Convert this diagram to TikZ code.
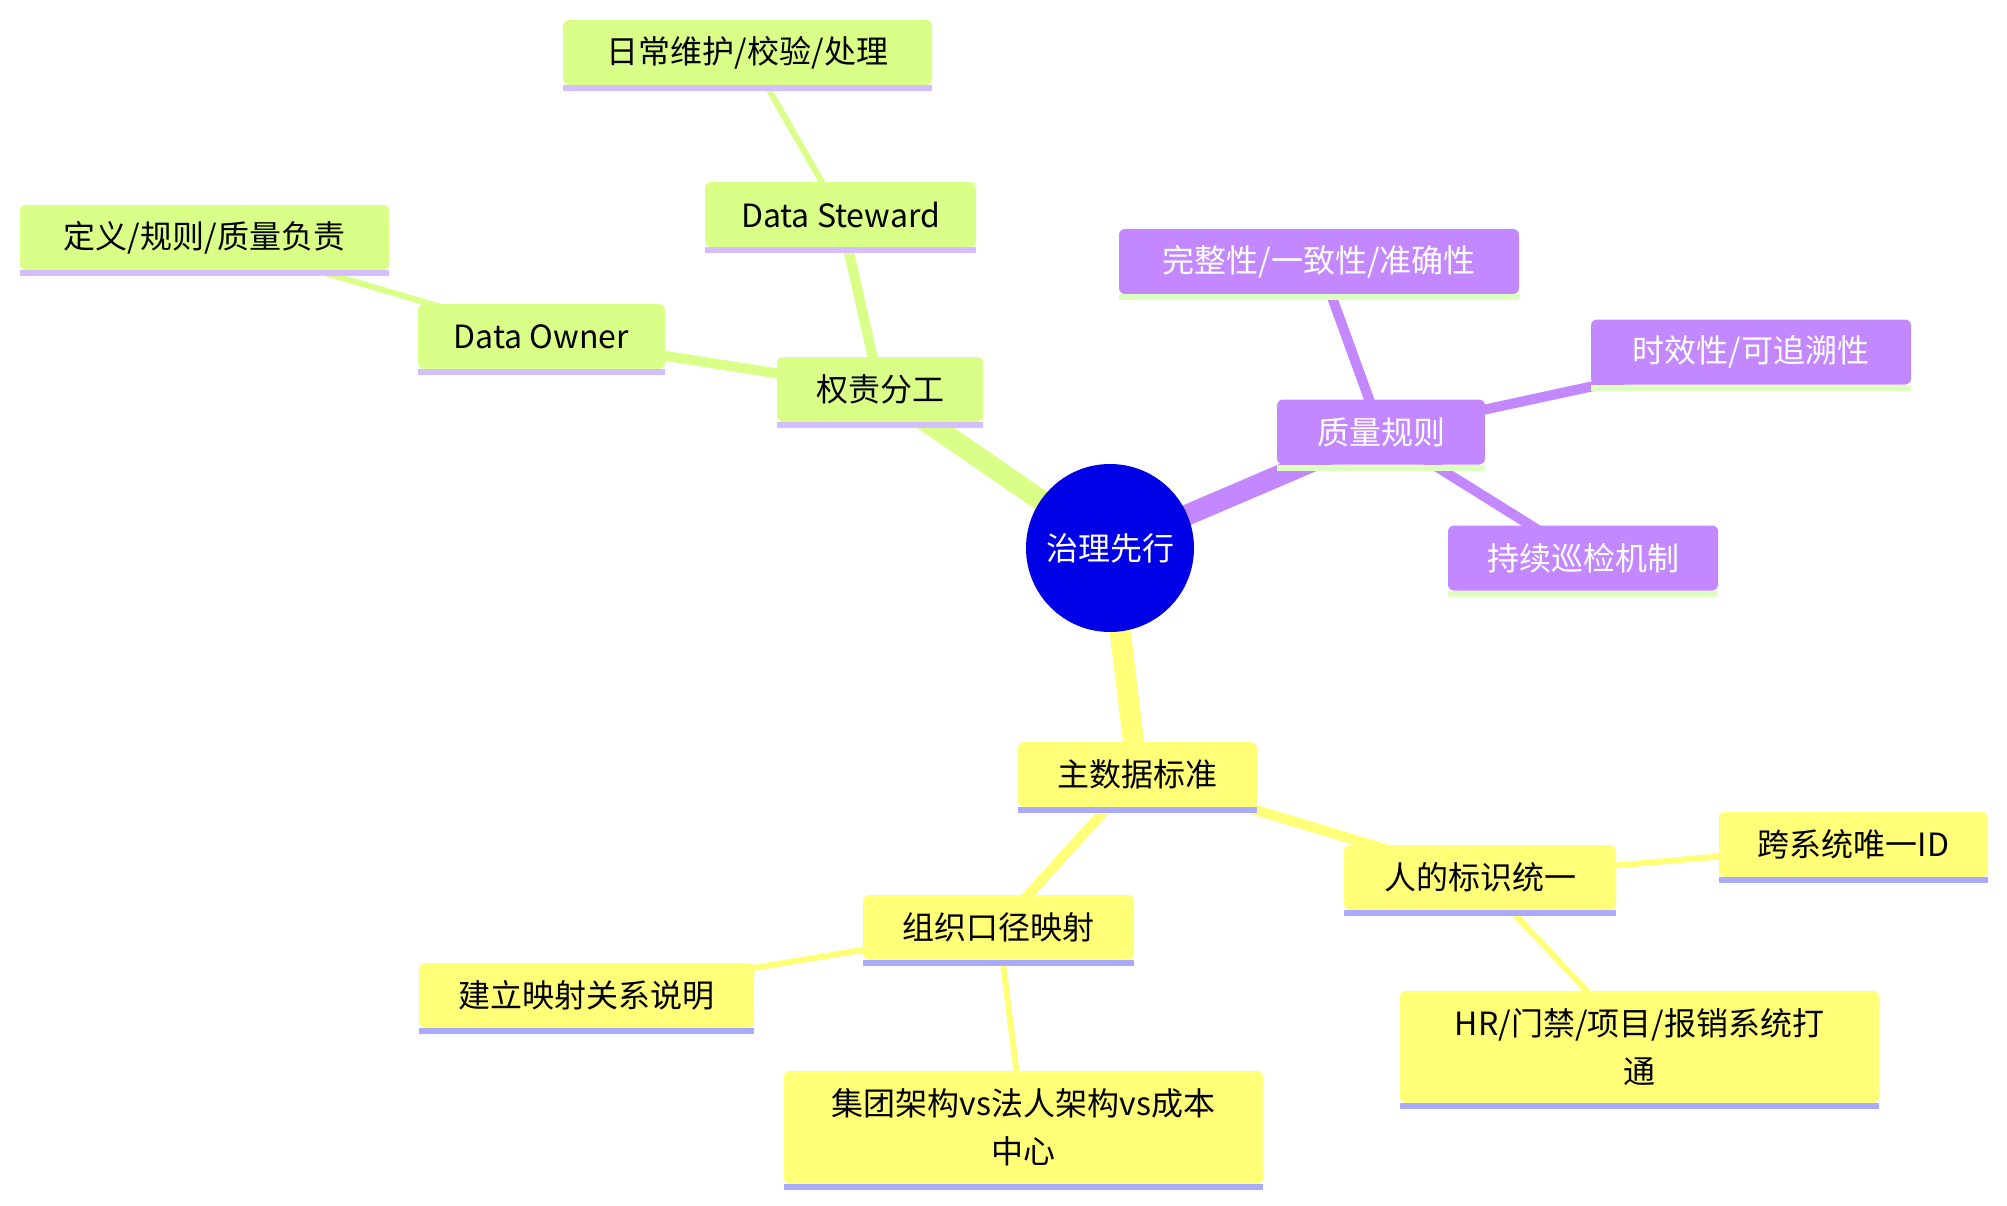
\documentclass[tikz,border=0pt]{standalone}
\usepackage{fontspec}
\setmainfont{Noto Sans CJK SC}
\usetikzlibrary{backgrounds}
\definecolor{gfill}{RGB}{217,255,136}
\definecolor{gline}{RGB}{212,190,255}
\definecolor{pfill}{RGB}{195,136,255}
\definecolor{pline}{RGB}{221,255,192}
\definecolor{yfill}{RGB}{255,255,120}
\definecolor{yline}{RGB}{170,170,255}
\definecolor{rootblue}{RGB}{0,0,230}
\begin{document}
\begin{tikzpicture}[x=1pt,y=-1pt,
  box/.style={rectangle, rounded corners=6pt, inner sep=0pt, minimum height=65pt,
    font=\fontsize{32}{48}\selectfont, align=center},
  gbox/.style={box, fill=gfill, text=black},
  pbox/.style={box, fill=pfill, text=white},
  ybox/.style={box, fill=yfill, text=black},
  rootnode/.style={circle, fill=rootblue, text=white, minimum size=168pt, inner sep=0pt,
    font=\fontsize{32}{48}\selectfont},
  e0/.style={line width=21pt},
  e1/.style={line width=10pt},
  e2/.style={line width=6pt},
]
\useasboundingbox (0,0) rectangle (2007,1206);

% root
\node[rootnode] (root) at (1110,548) {治理先行};

% green section
\node[gbox, minimum width=206pt] (qz) at (880,389.5) {权责分工};
\node[gbox, minimum width=247pt] (owner) at (541.5,336.5) {Data Owner};
\node[gbox, minimum width=271pt] (steward) at (840.5,214.5) {Data Steward};
\node[gbox, minimum width=369pt] (daily) at (747.5,52.5) {日常维护/校验/处理};
\node[gbox, minimum width=369pt] (define) at (204.5,237.5) {定义/规则/质量负责};

% purple section
\node[pbox, minimum width=208pt] (zl) at (1381,432) {质量规则};
\node[pbox, minimum width=400pt] (wz) at (1319,261.5) {完整性/一致性/准确性};
\node[pbox, minimum width=320pt] (sx) at (1751,352) {时效性/可追溯性};
\node[pbox, minimum width=270pt] (xj) at (1583,558) {持续巡检机制};

% yellow section
\node[ybox, minimum width=239pt] (zsj) at (1137.5,774.5) {主数据标准};
\node[ybox, minimum width=271pt] (zz) at (998.5,927.5) {组织口径映射};
\node[ybox, minimum width=335pt] (jl) at (586.5,995.5) {建立映射关系说明};
\node[ybox, minimum width=479pt, minimum height=113pt] (jt) at (1023.5,1127.5) {集团架构vs法人架构vs成本\\中心};
\node[ybox, minimum width=272pt] (rd) at (1480,877.5) {人的标识统一};
\node[ybox, minimum width=269pt] (kx) at (1853.5,844.5) {跨系统唯一ID};
\node[ybox, minimum width=479pt, minimum height=112pt] (hr) at (1639.5,1047) {HR/门禁/项目/报销系统打\\通};

% underlines
\foreach \n/\c in {qz/gline, owner/gline, steward/gline, daily/gline, define/gline,
  zl/pline, wz/pline, sx/pline, xj/pline,
  zsj/yline, zz/yline, jl/yline, jt/yline, rd/yline, kx/yline, hr/yline}
  \fill[\c] (\n.south west) rectangle ([yshift=-6pt]\n.south east);

% edges
\begin{pgfonlayer}{background}
  \fill[white] (0,0) rectangle (2007,1206);
  \draw[gfill, e0] (root.center) -- (qz.center);
  \draw[gfill, e1] (qz.center) -- (owner.center);
  \draw[gfill, e1] (qz.center) -- (steward.center);
  \draw[gfill, e2] (steward.center) -- (daily.center);
  \draw[gfill, e2] (owner.center) -- (define.center);

  \draw[pfill, e0] (root.center) -- (zl.center);
  \draw[pfill, e1] (zl.center) -- (wz.center);
  \draw[pfill, e1] (zl.center) -- (sx.center);
  \draw[pfill, e1] (zl.center) -- (xj.center);

  \draw[yfill, e0] (root.center) -- (zsj.center);
  \draw[yfill, e1] (zsj.center) -- (zz.center);
  \draw[yfill, e1] (zsj.center) -- (rd.center);
  \draw[yfill, e2] (zz.center) -- (jl.center);
  \draw[yfill, e2] (zz.center) -- (jt.center);
  \draw[yfill, e2] (rd.center) -- (kx.center);
  \draw[yfill, e2] (rd.center) -- (hr.center);
\end{pgfonlayer}
\end{tikzpicture}
\end{document}
